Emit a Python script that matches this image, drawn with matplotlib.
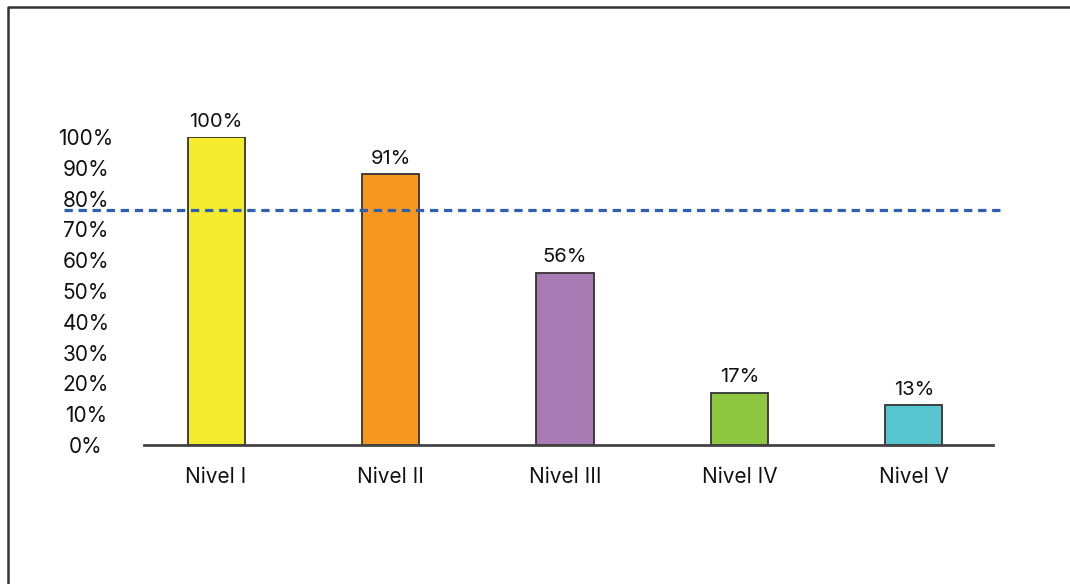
import matplotlib
matplotlib.use("Agg")
import matplotlib.pyplot as plt
import matplotlib.transforms as mtransforms
from matplotlib.lines import Line2D

categories = ["Nivel I", "Nivel II", "Nivel III", "Nivel IV", "Nivel V"]
values = [100, 88, 56, 17, 13]
value_labels = ["100%", "91%", "56%", "17%", "13%"]
colors = ["#F5EB2F", "#F7971F", "#A97BB5", "#8DC63F", "#56C5D0"]
threshold = 76.3
yticks = [0, 10, 20, 30, 40, 50, 60, 70, 80, 90, 100]
ytick_labels = [f"{t}%" for t in yticks]

plt.rcParams['font.family'] = ['Inter', 'DejaVu Sans']

W, H = 1070, 584
fig = plt.figure(figsize=(W / 100, H / 100), dpi=100)
ax = fig.add_axes([144 / W, 1 - 445 / H, (993 - 144) / W, (445 - 137) / H])

x = list(range(len(categories)))
ax.bar(x, values, width=0.327, color=colors, edgecolor="#333333", linewidth=1.3, zorder=2)

for xi, v, lab in zip(x, values, value_labels):
    ax.annotate(lab, (xi, v), xytext=(0, 4.5), textcoords="offset points",
                ha="center", va="bottom", fontsize=14.5, color="#111111")

ax.set_xlim(-0.413, 4.453)
ax.set_ylim(0, 100)

for s in ["top", "right", "left"]:
    ax.spines[s].set_visible(False)
ax.spines["bottom"].set_color("#444444")
ax.spines["bottom"].set_linewidth(2)
ax.spines["bottom"].set_zorder(3)

ax.set_xticks(x)
ax.set_xticklabels(categories, fontsize=15, color="#111111")
ax.tick_params(axis="x", length=0, pad=15.5)
ax.set_yticks(yticks)
ax.set_yticklabels(ytick_labels, fontsize=15, color="#111111")
ax.tick_params(axis="y", length=0, pad=58 * 72 / 100)
for t in ax.get_yticklabels():
    t.set_horizontalalignment("center")

trans = mtransforms.blended_transform_factory(fig.transFigure, ax.transData)
ax.add_line(Line2D([64 / W, 1003 / W], [threshold, threshold], transform=trans,
                   color="#2F5FB3", linewidth=2.3, linestyle=(0, (2.6, 1.8)),
                   clip_on=False, zorder=4))

fig.add_artist(Line2D([8 / W, 8 / W, 1.0], [0.0, 1 - 7 / H, 1 - 7 / H],
                      transform=fig.transFigure, color="#333333", linewidth=1.8))

fig.savefig("out.png", dpi=100)
